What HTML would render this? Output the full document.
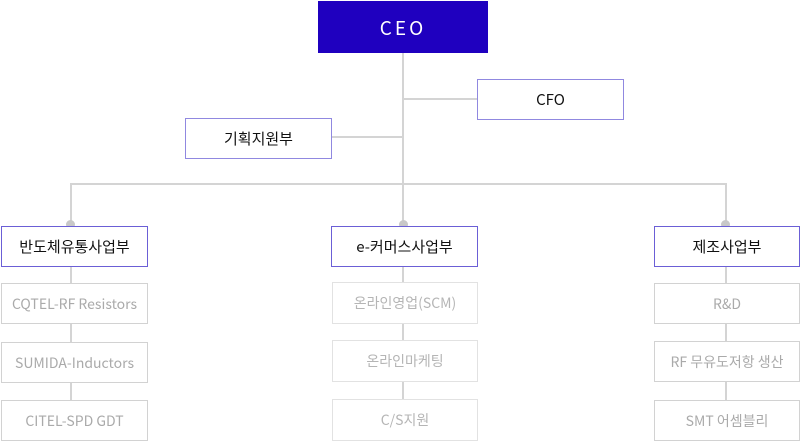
<!DOCTYPE html>
<html><head><meta charset="utf-8"><style>
body{margin:0;width:800px;height:442px;background:#fff;position:relative;overflow:hidden;font-family:"Noto Sans CJK KR","Liberation Sans",sans-serif}
.b{position:absolute;box-sizing:border-box;display:flex;align-items:center;justify-content:center;background:#fff}
.p{border:1px solid #6b5fd6;color:#111;font-size:15px}
.s{border:1px solid #d2d2d2;color:#aaa;font-size:14px}
.s2{border:1px solid #e2e2e2;color:#b5b5b5;font-size:14px}
.l{position:absolute;background:#d4d4d4}
.d{position:absolute;width:9px;height:9px;border-radius:50%;background:#c8c8c8}
</style></head><body>
<div class="l" style="left:402px;top:52px;width:2px;height:174px"></div>
<div class="l" style="left:403px;top:98px;width:75px;height:2px"></div>
<div class="l" style="left:330px;top:136px;width:74px;height:2px"></div>
<div class="l" style="left:70px;top:183px;width:657px;height:2px"></div>
<div class="l" style="left:70px;top:183px;width:2px;height:43px"></div>
<div class="l" style="left:725px;top:183px;width:2px;height:43px"></div>
<div class="d" style="left:66px;top:220px"></div>
<div class="d" style="left:399px;top:220px"></div>
<div class="d" style="left:721px;top:220px"></div>
<div class="l" style="left:70px;top:266px;width:2px;height:134px"></div>
<div class="l" style="left:402px;top:266px;width:2px;height:134px"></div>
<div class="l" style="left:725px;top:266px;width:2px;height:134px"></div>
<div class="b" style="left:318px;top:1px;width:170px;height:52px;background:#1f00bf;color:#fff;font-size:19px;letter-spacing:3px">CEO</div>
<div class="b p" style="left:477px;top:79px;width:147px;height:41px;border-color:#9088e0">CFO</div>
<div class="b p" style="left:185px;top:118px;width:147px;height:41px;border-color:#9088e0">기획지원부</div>
<div class="b p" style="left:1px;top:226px;width:147px;height:41px">반도체유통사업부</div>
<div class="b p" style="left:331px;top:226px;width:147px;height:41px">e-커머스사업부</div>
<div class="b p" style="left:654px;top:226px;width:146px;height:41px">제조사업부</div>
<div class="b s" style="left:1px;top:283px;width:147px;height:41px">CQTEL-RF Resistors</div>
<div class="b s" style="left:1px;top:342px;width:147px;height:41px">SUMIDA-Inductors</div>
<div class="b s" style="left:1px;top:400px;width:147px;height:41px">CITEL-SPD GDT</div>
<div class="b s2" style="left:332px;top:282px;width:146px;height:42px">온라인영업(SCM)</div>
<div class="b s2" style="left:332px;top:340px;width:146px;height:42px">온라인마케팅</div>
<div class="b s2" style="left:332px;top:399px;width:146px;height:42px">C/S지원</div>
<div class="b s" style="left:654px;top:283px;width:146px;height:41px">R&amp;D</div>
<div class="b s" style="left:654px;top:341px;width:146px;height:41px">RF 무유도저항 생산</div>
<div class="b s" style="left:654px;top:400px;width:146px;height:41px">SMT 어셈블리</div>
</body></html>
